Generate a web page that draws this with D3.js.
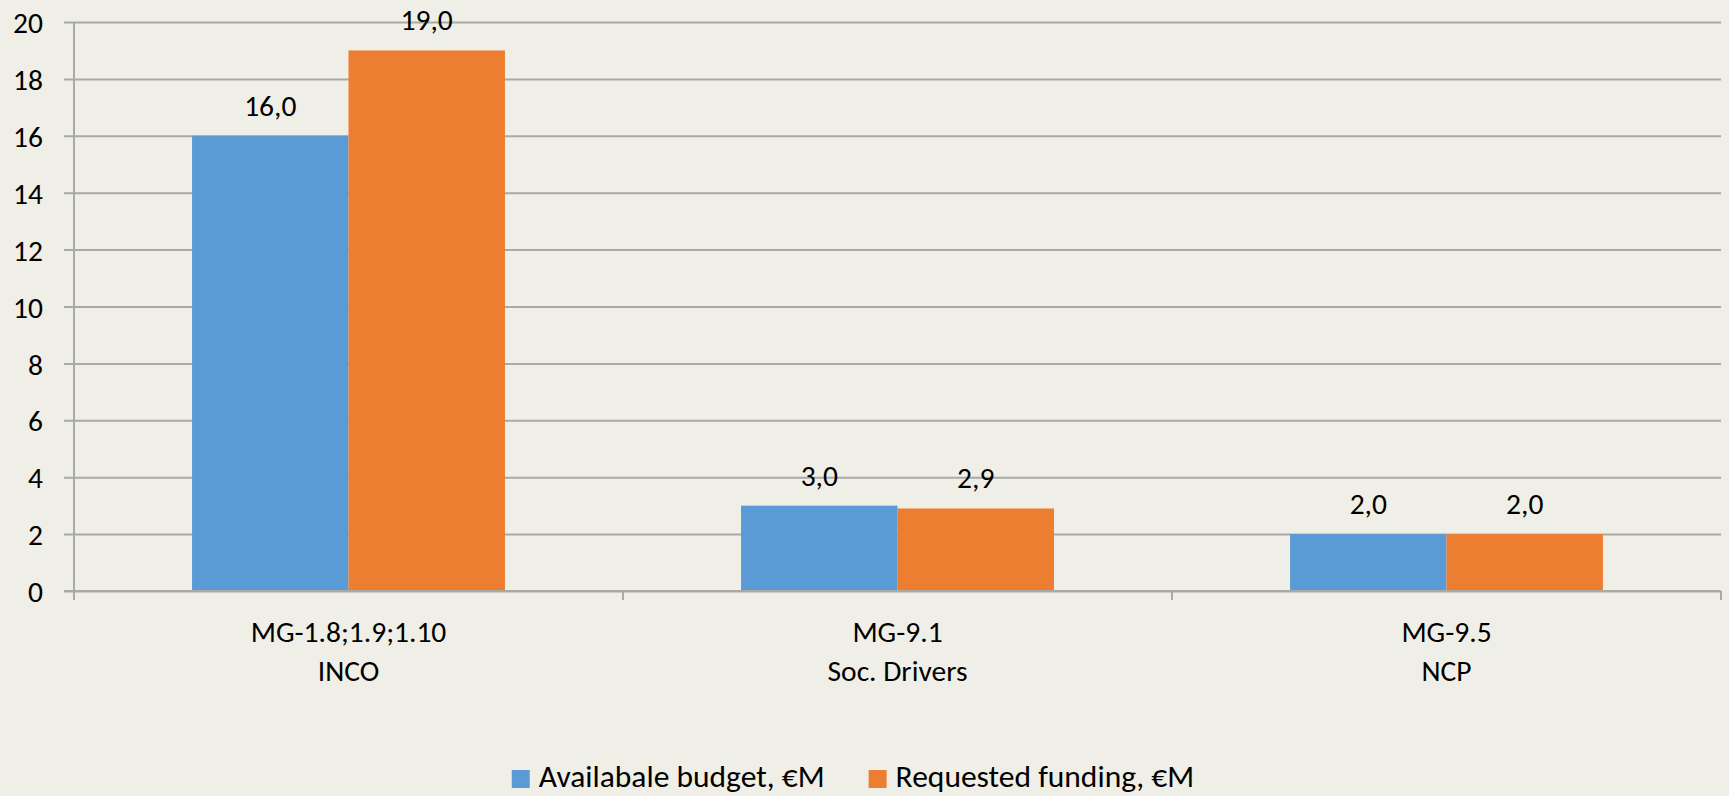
<!DOCTYPE html>
<html>
<head>
<meta charset="utf-8">
<script src="https://cdn.jsdelivr.net/npm/d3@7"></script>
<style>
  html, body { margin: 0; padding: 0; background: #F0EFE7; }
  svg { display: block; }
  text { font-family: Carlito, Lato, "Open Sans", sans-serif; fill: #000; }
</style>
</head>
<body>
<svg id="chart" width="1729" height="796"></svg>
<script>
// ---- data ----
const categoriesLine1 = ["MG-1.8;1.9;1.10", "MG-9.1", "MG-9.5"];
const categoriesLine2 = ["INCO", "Soc. Drivers", "NCP"];
const seriesNames = ["Availabale budget, €M", "Requested funding, €M"];
const availableBudget = [16.0, 3.0, 2.0];
const requestedFunding = [19.0, 2.9, 2.0];
const yTicks = [0, 2, 4, 6, 8, 10, 12, 14, 16, 18, 20];

// ---- layout ----
const W = 1729, H = 796;
const plot = { left: 74, right: 1721, top: 22, bottom: 591 };
const colors = ["#5B9BD5", "#ED7D31"];
const gridColor = "#A9A9A6";
const fontSize = 29.5;
const legendFontSize = 31.5;

const svg = d3.select("#chart");
svg.append("rect").attr("width", W).attr("height", H).attr("fill", "#F0EFE7");

const x = d3.scaleBand()
  .domain(d3.range(categoriesLine1.length))
  .range([plot.left, plot.right])
  .paddingInner(0).paddingOuter(0);

const barW = x.bandwidth() * 0.285;
const x1 = d3.scaleBand()
  .domain([0, 1])
  .range([0, barW * 2]);

const y = d3.scaleLinear().domain([0, 20]).range([plot.bottom, plot.top]);

// gridlines + y ticks
const yAxis = d3.axisLeft(y).tickValues(yTicks).tickSize(plot.right - plot.left + 10).tickFormat(d3.format("d")).tickPadding(21);
const gy = svg.append("g").attr("transform", `translate(${plot.right},0)`).call(yAxis);
gy.select(".domain").remove();
gy.selectAll(".tick line").attr("stroke", gridColor).attr("stroke-width", 2);
gy.selectAll(".tick text").attr("font-size", fontSize).attr("font-family", "Carlito, Lato, sans-serif").attr("fill", "#000").attr("dy", "0.36em");

// y axis line
svg.append("line")
  .attr("x1", plot.left).attr("x2", plot.left)
  .attr("y1", plot.top).attr("y2", plot.bottom + 9)
  .attr("stroke", gridColor).attr("stroke-width", 2);

// category ticks
const catEdges = d3.range(categoriesLine1.length + 1).map(i => i < categoriesLine1.length ? x(i) : plot.right);
svg.selectAll("line.cat").data(catEdges).enter().append("line")
  .attr("class", "cat")
  .attr("x1", d => d).attr("x2", d => d)
  .attr("y1", plot.bottom).attr("y2", plot.bottom + 9)
  .attr("stroke", gridColor).attr("stroke-width", 2);

// bars
const seriesData = [availableBudget, requestedFunding];
seriesData.forEach((vals, s) => {
  const g = svg.append("g");
  const bx = i => x(i) + x.bandwidth() / 2 - barW + x1(s);
  g.selectAll("rect").data(vals).enter().append("rect")
    .attr("x", (d, i) => bx(i))
    .attr("y", d => y(d))
    .attr("width", barW)
    .attr("height", d => y(0) - y(d))
    .attr("fill", colors[s]);
  g.selectAll("text").data(vals).enter().append("text")
    .attr("x", (d, i) => bx(i) + barW / 2)
    .attr("y", d => y(d) - 20)
    .attr("text-anchor", "middle")
    .attr("font-size", fontSize)
    .text(d => d.toFixed(1).replace(".", ","));
});

// redraw baseline over bars
svg.append("line")
  .attr("x1", plot.left - 10).attr("x2", plot.right)
  .attr("y1", plot.bottom).attr("y2", plot.bottom)
  .attr("stroke", gridColor).attr("stroke-width", 2);

// category labels
const cl = svg.append("g");
categoriesLine1.forEach((c, i) => {
  const t = cl.append("text")
    .attr("x", x(i) + x.bandwidth() / 2)
    .attr("y", 642)
    .attr("text-anchor", "middle")
    .attr("font-size", fontSize);
  t.append("tspan").attr("x", x(i) + x.bandwidth() / 2).text(c);
  t.append("tspan").attr("x", x(i) + x.bandwidth() / 2).attr("dy", 39).text(categoriesLine2[i]);
});

// legend
const leg = svg.append("g");
const items = seriesNames.map((n, i) => {
  const g = leg.append("g");
  g.append("rect").attr("x", 0).attr("y", -17).attr("width", 18).attr("height", 18).attr("fill", colors[i]);
  const t = g.append("text").attr("x", 27).attr("y", 0).attr("font-size", legendFontSize).text(n);
  return { g, w: 27 + t.node().getComputedTextLength() };
});
const gap = 44;
const total = items.reduce((a, b) => a + b.w, 0) + gap * (items.length - 1);
let cx = 853 - total / 2;
items.forEach(it => {
  it.g.attr("transform", `translate(${cx},787)`);
  cx += it.w + gap;
});
</script>
</body>
</html>
